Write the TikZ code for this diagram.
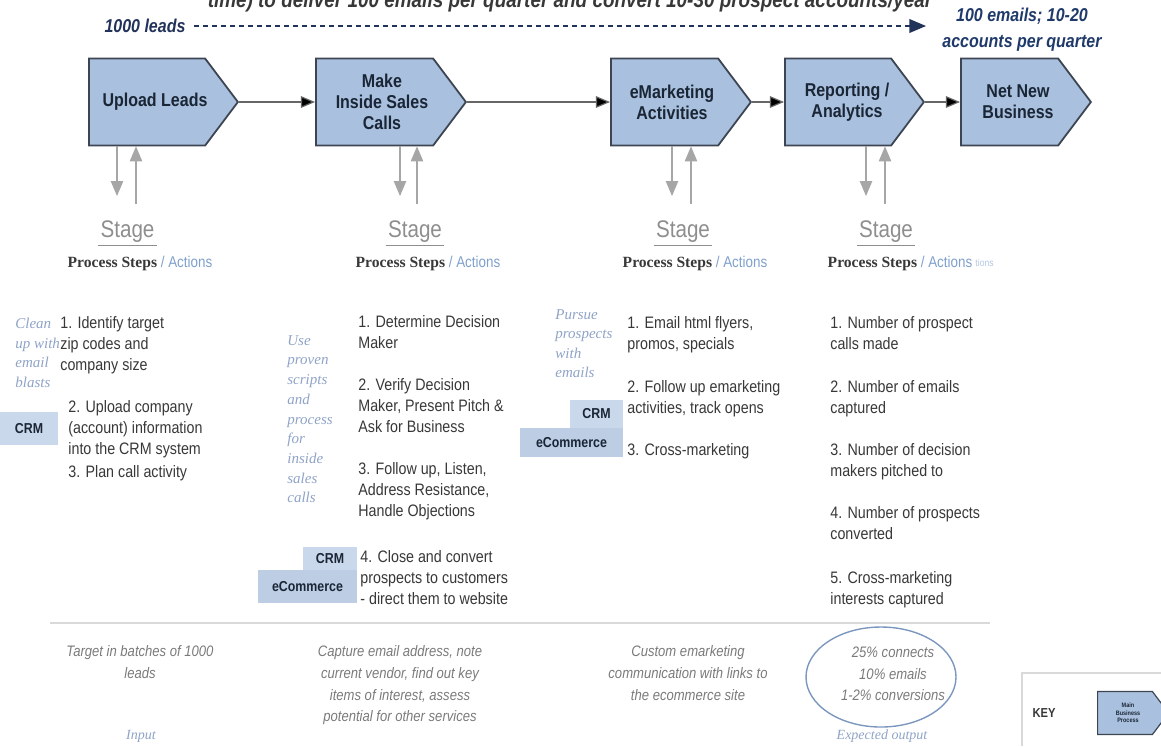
\documentclass[tikz,border=0pt]{standalone}
\usepackage{fontspec}
\setmainfont[FakeStretch=0.86]{Liberation Sans}
\newfontfamily\serifnote{Liberation Serif}
\usetikzlibrary{arrows,shapes.symbols,shapes.geometric}

\definecolor{procfill}{HTML}{A9C1DE}
\definecolor{procline}{HTML}{3D4553}
\definecolor{proctext}{HTML}{1A2636}
\definecolor{conngray}{HTML}{666666}
\definecolor{vgray}{HTML}{A6A6A6}
\definecolor{leadnavy}{HTML}{22335A}
\definecolor{goalblue}{HTML}{1F3A6A}
\definecolor{itemgray}{HTML}{383838}
\definecolor{stagegray}{HTML}{8E8E8E}
\definecolor{noteblue}{HTML}{8FA3C7}
\definecolor{actblue}{HTML}{7FA0CC}
\definecolor{outgray}{HTML}{7A7A7A}
\definecolor{crmfill}{HTML}{CAD8EB}
\definecolor{ecomfill}{HTML}{BCCDE4}
\definecolor{ellblue}{HTML}{7C97BE}
\definecolor{sepgray}{HTML}{D9D9D9}

\begin{document}
\begin{tikzpicture}[x=0.5pt, y=-0.5pt,
    proc/.style = {shape=signal, signal to=east, signal pointer angle=106, draw=procline, line width=0.9pt, fill=procfill, minimum height=43.5pt, inner sep=0pt, anchor=west},
    proclbl/.style = {align=center, inner sep=0pt, text=proctext, font=\fontsize{9.3}{10.5}\selectfont\bfseries},
    conn/.style = {-triangle 45, draw=conngray, line width=0.6pt},
    vline/.style = {-triangle 45, draw=vgray, line width=0.7pt},
    dasharr/.style = {-triangle 45, draw=leadnavy, line width=0.9pt, dash pattern=on 2.5pt off 2pt},
    goaltxt/.style = {align=center, inner sep=1pt, font=\fontsize{9.3}{13}\selectfont\bfseries\itshape},
    stagetxt/.style = {inner sep=1pt, text=stagegray, font=\fontsize{12}{14}\selectfont},
    pstxt/.style = {inner sep=0pt, text=itemgray, font=\fontsize{7.8}{9}\selectfont},
    itemtxt/.style = {anchor=north west, align=left, inner sep=0pt, text=itemgray, font=\fontsize{8.3}{10.5}\selectfont},
    notetxt/.style = {anchor=north west, align=left, inner sep=0pt, text=noteblue, font=\serifnote\itshape\fontsize{7.5}{9.7}\selectfont},
    outtxt/.style = {anchor=north, align=center, inner sep=0pt, text=outgray, font=\fontsize{7.6}{10.8}\selectfont\itshape},
    tagtxt/.style = {anchor=base, inner sep=0pt, text=noteblue, font=\serifnote\itshape\fontsize{7}{8}\selectfont},
    sysbox/.style = {inner sep=0pt, text=proctext, font=\fontsize{7.2}{8}\selectfont\bfseries}]

    \useasboundingbox (0,0) rectangle (1161,746);

    % goal line
    \node[goaltxt, anchor=base, text=itemgray, font=\fontsize{11}{13}\selectfont\bfseries\itshape] (ttl) at (570,7) {time) to deliver 100 emails per quarter and convert 10-30 prospect accounts/year};
    \node[goaltxt, text=leadnavy] (leads) at (145,26) {1000 leads};
    \node[goaltxt, anchor=north, inner sep=0pt, text=goalblue] (goal) at (1022,8) {100 emails; 10-20\\accounts per quarter};
    \coordinate (dashend) at (926,26);
    \draw[dasharr] (leads.east) ++(6,0) coordinate (dashstart) -- (dashend);

    % main business process
    \node[proc, minimum width=74.5pt] (up) at (88,102) {};
    \node[proc, minimum width=75pt] (calls) at (315,102) {};
    \node[proc, minimum width=70pt] (emkt) at (610,102) {};
    \node[proc, minimum width=69.5pt] (rep) at (784,102) {};
    \node[proc, minimum width=65pt] (net) at (960,102) {};
    \node[proclbl] (upl) at (155,102) {Upload Leads};
    \node[proclbl] (callsl) at (382,102) {Make\\Inside Sales\\Calls};
    \node[proclbl] (emktl) at (672,102) {eMarketing\\Activities};
    \node[proclbl] (repl) at (847,102) {Reporting /\\Analytics};
    \node[proclbl] (netl) at (1018,102) {Net New\\Business};
    \path[conn] (up) edge (calls);
    \path[conn] (calls) edge (emkt);
    \path[conn] (emkt) edge (rep);
    \path[conn] (rep) edge (net);

    % in / out arrows under each stage
    \coordinate (d1) at (117,196);  \coordinate (u1) at (136,204);
    \coordinate (d2) at (400,196);  \coordinate (u2) at (417,204);
    \coordinate (d3) at (672,196);  \coordinate (u3) at (691,204);
    \coordinate (d4) at (866,196);  \coordinate (u4) at (885,204);
    \draw[vline] (d1 |- up.south) -- (d1);   \draw[vline] (u1) -- (u1 |- up.south);
    \draw[vline] (d2 |- calls.south) -- (d2); \draw[vline] (u2) -- (u2 |- calls.south);
    \draw[vline] (d3 |- emkt.south) -- (d3);  \draw[vline] (u3) -- (u3 |- emkt.south);
    \draw[vline] (d4 |- rep.south) -- (d4);   \draw[vline] (u4) -- (u4 |- rep.south);

    % stage headers
    \node[stagetxt] (st1) at (127.5,232) {Stage};
    \node[stagetxt] (st2) at (415,232) {Stage};
    \node[stagetxt] (st3) at (683,232) {Stage};
    \node[stagetxt] (st4) at (886,232) {Stage};
    \draw[stagegray, line width=0.6pt] (st1.south west) -- (st1.south east);
    \draw[stagegray, line width=0.6pt] (st2.south west) -- (st2.south east);
    \draw[stagegray, line width=0.6pt] (st3.south west) -- (st3.south east);
    \draw[stagegray, line width=0.6pt] (st4.south west) -- (st4.south east);
    \node[pstxt] (ps1) at (140,263) {{\serifnote\bfseries Process Steps} \textcolor{actblue}{/ Actions}};
    \node[pstxt] (ps2) at (428,263) {{\serifnote\bfseries Process Steps} \textcolor{actblue}{/ Actions}};
    \node[pstxt] (ps3) at (695,263) {{\serifnote\bfseries Process Steps} \textcolor{actblue}{/ Actions}};
    \node[pstxt] (ps4) at (900,263) {{\serifnote\bfseries Process Steps} \textcolor{actblue}{/ Actions}};
    \node[pstxt, anchor=west, text=actblue!60, font=\fontsize{5}{6}\selectfont] (ps4x) at (ps4.east) {\ tions};

    % upload leads
    \node[notetxt] (n1) at (15,318) {Clean\\up with\\email\\blasts};
    \node[itemtxt] (i11) at (60,316.5) {1. Identify target\\ zip codes and\\ company size};
    \node[itemtxt] (i12) at (68,400.5) {2. Upload company\\(account) information\\ into the CRM system};
    \node[itemtxt] (i13) at (68,465.5) {3. Plan call activity};
    \node[sysbox, fill=crmfill, minimum width=29pt, minimum height=16.5pt] (crm1) at (29,428.5) {CRM};

    % inside sales calls
    \node[notetxt, font=\serifnote\itshape\fontsize{7.5}{9.85}\selectfont] (n2) at (287,335) {Use\\proven\\scripts\\and\\process\\for\\inside\\sales\\calls};
    \node[itemtxt] (i21) at (358,315.5) {1. Determine Decision\\ Maker};
    \node[itemtxt] (i22) at (358,378.5) {2. Verify Decision\\ Maker, Present Pitch \&\\ Ask for Business};
    \node[itemtxt] (i23) at (358,462.5) {3. Follow up, Listen,\\ Address Resistance,\\ Handle Objections};
    \node[itemtxt] (i24) at (360,550.5) {4. Close and convert\\prospects to customers\\- direct them to website};
    \node[sysbox, fill=crmfill, minimum width=27pt, minimum height=11.5pt] (crm2) at (330,558.5) {CRM};
    \node[sysbox, fill=ecomfill, minimum width=49.5pt, minimum height=16.5pt] (ecom2) at (307.5,586.5) {eCommerce};

    % emarketing
    \node[notetxt] (n3) at (555,309) {Pursue\\prospects\\with\\emails};
    \node[itemtxt] (i31) at (627,316.5) {1. Email html flyers,\\ promos, specials};
    \node[itemtxt] (i32) at (627,380.5) {2. Follow up emarketing\\ activities, track opens};
    \node[itemtxt] (i33) at (627,443.5) {3. Cross-marketing};
    \node[sysbox, fill=crmfill, minimum width=26.5pt, minimum height=14pt] (crm3) at (596.5,414) {CRM};
    \node[sysbox, fill=ecomfill, minimum width=51.5pt, minimum height=14.5pt] (ecom3) at (571.5,442.5) {eCommerce};

    % reporting
    \node[itemtxt] (i41) at (830,316.5) {1. Number of prospect\\ calls made};
    \node[itemtxt] (i42) at (830,380.5) {2. Number of emails\\ captured};
    \node[itemtxt] (i43) at (830,443.5) {3. Number of decision\\ makers pitched to};
    \node[itemtxt] (i44) at (830,506.5) {4. Number of prospects\\ converted};
    \node[itemtxt] (i45) at (830,571.5) {5. Cross-marketing\\ interests captured};

    % inputs and outputs
    \draw[sepgray, line width=1pt] (50,623) -- (990,623);
    \node[outtxt] (b1) at (140,645.5) {Target in batches of 1000\\leads};
    \node[outtxt] (b2) at (400,645.5) {Capture email address, note\\current vendor, find out key\\items of interest, assess\\potential for other services};
    \node[outtxt] (b3) at (688,645.5) {Custom emarketing\\communication with links to\\the ecommerce site};
    \node[draw=ellblue, line width=0.7pt, shape=ellipse, minimum width=75pt, minimum height=50pt] (outell) at (881,677) {};
    \node[outtxt] (b4) at (893,646.5) {25\% connects\\10\% emails\\1-2\% conversions};
    \node[tagtxt] (inp) at (141,739) {Input};
    \node[tagtxt] (expo) at (882,739) {Expected output};

    % key
    \draw[sepgray, line width=1pt] (1022,746) -- (1022,673) -- (1161,673);
    \node[sysbox, font=\fontsize{6.5}{8}\selectfont\bfseries, text=itemgray] (key) at (1044,713) {KEY};
    \node[proc, minimum width=35.5pt, minimum height=21.5pt, line width=0.6pt] (keyproc) at (1097,713) {};
    \node[proclbl, font=\fontsize{3.2}{3.7}\selectfont\bfseries] (keyl) at (1128,713) {Main\\Business\\Process};
\end{tikzpicture}
\end{document}
